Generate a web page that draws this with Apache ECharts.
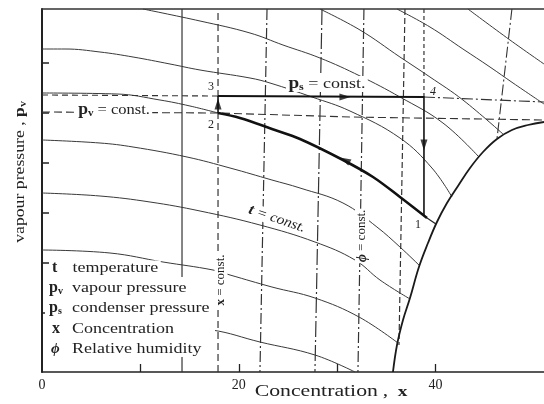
<!DOCTYPE html>
<html><head><meta charset="utf-8">
<script src="https://cdn.jsdelivr.net/npm/echarts@6/dist/echarts.min.js"></script>
<style>html,body{margin:0;padding:0;background:#fff}#c{width:544px;height:404px}</style>
</head><body><div id="c"></div>
<script>
// x: concentration, y: vapour pressure (arbitrary schematic units 0..363)
const xTickValues = [10, 20, 30, 40];
const xLabelValues = [0, 20, 40];
const yTickValues = [59, 109, 159, 209, 259, 309];

// temperature (t = const.) curves
const tCurveA = [[10.26,363],[16.06,351],[21.14,339],[24.49,327],[28.25,314],[32.32,296],[36.38,275],[40.75,249],[44.41,215]];
const tCurveA2 = [[28.25,363],[32.32,342],[36.38,315],[39.43,295],[42.78,272],[46.85,238]];
const tCurveTop1 = [[36.08,363],[39.43,345],[42.78,323],[45.53,305],[47.87,289],[51.02,268]];
const tCurveTop2 = [[43.29,363],[47.56,332],[51.02,308]];
const tCurveB = [[0,323],[2.34,323],[5.89,320],[9.25,315],[13.01,308],[16.06,302],[21.14,294],[23.17,289],[27.44,275],[31.30,261],[36.38,234],[39.63,204],[41.67,175]];
const tCurveC = [[0,279],[7.62,278],[11.99,272],[15.04,266],[17.89,259]];
const tCurveD = [[0,232],[5.89,229],[9.25,225],[14.74,215],[19.11,204],[23.37,192],[26.22,184],[30.59,169],[34.04,145],[36.38,125],[38.41,106]];
const tCurveE = [[0,179],[5.89,176],[10.98,170],[16.06,161],[22.15,147],[27.74,130],[31.81,112],[34.35,92],[37.40,73]];
const tCurveF = [[0,122],[6.91,119],[12.30,110],[17.38,102],[19.11,97],[23.37,85],[27.74,74],[32.22,55],[36.18,29]];
const tCurveG = [[0.81,55],[7.93,51],[17.28,42],[22.15,30],[27.74,17],[31.81,0]];

// process 2 -> 1 (bold) and extension to the saturation line
const process21 = [[17.89,259],[20.12,254],[23.37,243],[26.22,233],[30.59,212],[33.64,195],[36.38,175],[39.13,154]];
const process1Ext = [[39.13,154],[40.04,148]];
// saturation (crystallisation) boundary
const satCurve = [[35.67,0],[36.08,27],[36.69,52],[37.40,74],[38.31,105],[39.23,129],[40.14,150],[41.16,169],[42.28,186],[43.50,204],[44.82,220],[46.24,233],[47.76,242],[49.39,247],[51.02,250]];

// x = const. / phi = const. lines
const vLine1 = [[14.23,0],[14.23,363]];
const vLine2 = [[17.89,0],[17.89,363]];
const vLine3 = [[22.87,363],[22.15,0]];
const vLine4 = [[28.46,363],[27.74,0]];
const vLine5 = [[32.72,363],[32.11,0]];
const vLine6 = [[36.89,363],[36.28,27]];
const vLine7Top = [[38.82,363],[38.82,276]];
const process41 = [[38.82,276],[38.82,156]];
const process23 = [[17.89,259],[17.89,276]];
const phiLine = [[47.76,363],[46.24,233]];

// pressure lines
const psLeft = [[0,277],[17.89,276]];
const process34 = [[17.89,276],[38.82,275]];
const psRight = [[38.82,275],[51.02,270]];
const pvLine = [[0,260],[17.89,259],[31.30,255],[51.02,252]];

// arrow heads on the cycle
const arrowPoints = [[17.89,268],[30.79,275],[38.82,227],[30.79,212]];
const arrowAngles = [0, -90, 180, 63];

const serif = "'Liberation Serif','DejaVu Serif',serif";
const thin = {color:'#3a3a3a', width:1};
const dashDot = [11,3,2,3];

function ln(data, style, smooth, z) {
  return {type:'line', data, symbol:'none', showSymbol:false, smooth: smooth || false,
          lineStyle: style, silent:true, animation:false, z: z || 2};
}

const series = [
  ln(tCurveA, thin, 0.4), ln(tCurveA2, thin, 0.4), ln(tCurveTop1, thin, 0.4), ln(tCurveTop2, thin, 0.4),
  ln(tCurveB, thin, 0.4), ln(tCurveC, thin, 0.4), ln(tCurveD, thin, 0.4), ln(tCurveE, thin, 0.4),
  ln(tCurveF, thin, 0.4), ln(tCurveG, thin, 0.4),
  ln(vLine1, {color:'#333', width:1.2}),
  ln(vLine2, {color:'#333', width:1.2, type:[7,4]}),
  ln(vLine3, {color:'#333', width:1.2, type:dashDot}),
  ln(vLine4, {color:'#333', width:1.2, type:[16,3,2,3]}),
  ln(vLine5, {color:'#333', width:1.2, type:dashDot}),
  ln(vLine6, {color:'#333', width:1.2, type:[6,3]}),
  ln(vLine7Top, {color:'#333', width:1.2, type:[4,3]}),
  ln(phiLine, {color:'#333', width:1.1, type:dashDot}),
  ln(psLeft, {color:'#333', width:1.1, type:[6,4]}),
  ln(psRight, {color:'#333', width:1.1, type:dashDot}),
  ln(pvLine, {color:'#333', width:1.1, type:[8,4]}),
  ln(satCurve, {color:'#1a1a1a', width:1.8}, 0.4, 3),
  ln(process21, {color:'#111', width:2.6}, 0.35, 4),
  ln(process1Ext, {color:'#222', width:1.2}),
  ln(process34, {color:'#111', width:2}, false, 4),
  ln(process41, {color:'#111', width:1.6}, false, 4),
  ln(process23, {color:'#111', width:1.6}, false, 4),
  {type:'scatter', symbol:'triangle', symbolSize:[7,11], silent:true, animation:false, z:5,
   itemStyle:{color:'#111'},
   data: arrowPoints.map((p,i)=>({value:p, symbolRotate:arrowAngles[i]}))}
];

const sub = {fontFamily:serif, fontSize:10, fontWeight:'bold', padding:[6,0,0,0], color:'#222'};
const bold = {fontFamily:serif, fontSize:16, fontWeight:'bold', color:'#222'};
function txt(x, y, text, opts) {
  opts = opts || {};
  return {type:'text', x, y, z:60, rotation: opts.rotation || 0, scaleX: opts.sx || 1, silent:true,
    style:{text, fill:'#222', font: opts.font || ('15px ' + serif),
      textAlign: opts.align || 'left', textVerticalAlign:'middle',
      backgroundColor: opts.bg || null, padding: opts.pad || 0,
      rich: opts.rich || {}}};
}
const rich = {
  b: bold, s: sub,
  n: {fontFamily:serif, fontSize:15, color:'#222'},
  i: {fontFamily:serif, fontSize:15, fontStyle:'italic', fontWeight:'bold', color:'#222'}
};

const graphic = [
  {type:'rect', shape:{x:45, y:277, width:170, height:80}, style:{fill:'#fff'}, z:50, silent:true},
  txt(52, 268, '{b|t}', {rich}),
  txt(70, 268, 'temperature', {bg:'#fff', pad:[0,2], sx:1.2}),
  txt(49, 288, '{b|p}{s|v}', {rich}),
  txt(72, 288, 'vapour pressure', {sx:1.2}),
  txt(49, 308, '{b|p}{s|s}', {rich}),
  txt(72, 308, 'condenser pressure', {sx:1.2}),
  txt(52, 329, '{b|x}', {rich}),
  txt(72, 329, 'Concentration', {sx:1.2}),
  txt(51, 349, '{i|ϕ}', {rich}),
  txt(72, 349, 'Relative humidity', {sx:1.2}),
  // annotations
  txt(76, 110, '{b|p}{s|v}{n| = const.}', {rich, bg:'#fff', pad:[0,2], sx:1.1}),
  txt(286, 84, '{b|p}{s|s}{n| = const.}', {rich, bg:'#fff', pad:[0,2], sx:1.2}),
  txt(277, 219, '{i|t}{m| = const.}', {rich:{i:{fontFamily:serif,fontSize:15,fontStyle:'italic',fontWeight:'bold',color:'#222'}, m:{fontFamily:serif,fontSize:14,fontStyle:'italic',color:'#222'}}, align:'center', rotation:-0.33, bg:'#fff', pad:[0,2], sx:1.1}),
  txt(221, 280, '{b|x}{m| = const.}', {rich:{b:{fontFamily:serif,fontSize:13,fontWeight:'bold',color:'#222'}, m:{fontFamily:serif,fontSize:13,color:'#222'}}, align:'center', rotation:Math.PI/2, bg:'#fff', pad:[0,1]}),
  txt(362, 236, '{i|ϕ}{m| = const.}', {rich:{i:{fontFamily:serif,fontSize:14,fontStyle:'italic',fontWeight:'bold',color:'#222'}, m:{fontFamily:serif,fontSize:13,color:'#222'}}, align:'center', rotation:Math.PI/2, bg:'#fff', pad:[0,1]}),
  txt(208, 87, '3', {font:'12px ' + serif}),
  txt(208, 125, '2', {font:'12px ' + serif}),
  txt(430, 92, '4', {font:'italic 12px ' + serif}),
  txt(415, 225, '1', {font:'12px ' + serif}),
  // axis titles
  txt(20, 172, '{n|vapour pressure} {n|,} {b|p}{s|v}', {rich:{n:{fontFamily:serif,fontSize:15,color:'#222'}, b:{fontFamily:serif,fontSize:15,fontWeight:'bold',color:'#222'}, s:sub}, align:'center', rotation:Math.PI/2, sx:1.18}),
  txt(331, 392, '{n|Concentration} {n|,}  {b|x}', {rich:{n:{fontFamily:serif,fontSize:17,color:'#222'}, b:{fontFamily:serif,fontSize:15,fontWeight:'bold',color:'#222'}}, align:'center', sx:1.28})
];

const chart = echarts.init(document.getElementById('c'), null, {renderer:'canvas'});
chart.setOption({
  animation:false,
  backgroundColor:'#fff',
  grid:{left:42, right:0, top:9, bottom:32, containLabel:false, outerBoundsMode:'none'},
  xAxis:[
    {type:'value', min:0, max:51.02, position:'bottom',
     axisLine:{lineStyle:{color:'#222', width:1.5}},
     axisTick:{inside:true, length:8, customValues:xTickValues, lineStyle:{color:'#222', width:1.3}},
     axisLabel:{customValues:xLabelValues, fontFamily:serif, fontSize:14, color:'#222', margin:6},
     splitLine:{show:false}},
    {type:'value', min:0, max:51.02, position:'top',
     axisLine:{lineStyle:{color:'#333', width:1.5}}, axisTick:{show:false}, axisLabel:{show:false}, splitLine:{show:false}}
  ],
  yAxis:{type:'value', min:0, max:363,
    axisLine:{lineStyle:{color:'#222', width:2}},
    axisTick:{inside:true, length:7, customValues:yTickValues, lineStyle:{color:'#222', width:1.5}},
    axisLabel:{show:false}, splitLine:{show:false}},
  series,
  graphic
});
</script></body></html>
